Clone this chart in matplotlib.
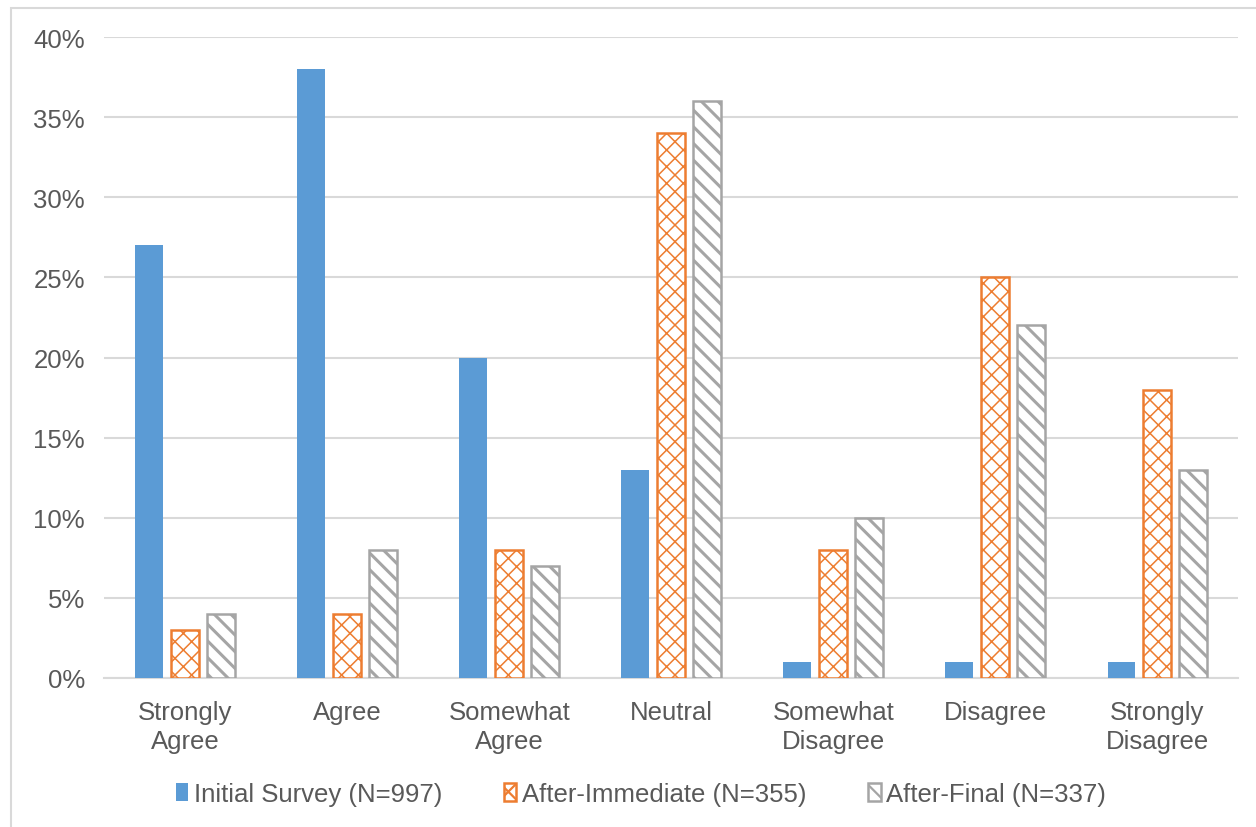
import matplotlib.pyplot as plt
import matplotlib.patches as mpatches
import numpy as np

plt.rcParams['font.family'] = ['Liberation Sans', 'DejaVu Sans']
plt.rcParams['hatch.linewidth'] = 1.6

categories = ['Strongly\nAgree', 'Agree', 'Somewhat\nAgree', 'Neutral',
              'Somewhat\nDisagree', 'Disagree', 'Strongly\nDisagree']
initial = [27, 38, 20, 13, 1, 1, 1]
immediate = [3, 4, 8, 34, 8, 25, 18]
final = [4, 8, 7, 36, 10, 22, 13]
series_names = ['Initial Survey (N=997)', 'After-Immediate (N=355)', 'After-Final (N=337)']

blue = '#5B9BD5'
orange = '#ED7D31'
gray = '#A5A5A5'
text_col = '#595959'

fig = plt.figure(figsize=(12.56, 8.28), dpi=100)
ax = fig.add_axes([0.083, 0.18, 0.903, 0.774])

# light frame around the chart area
fig.patches.append(mpatches.Rectangle((11 / 1256, -0.01), 1.1, 1 - 9 / 828 + 0.01,
                                      transform=fig.transFigure, fill=False,
                                      edgecolor='#D9D9D9', linewidth=1.5))

x = np.arange(len(categories))
w = 0.172
off = 0.222

b1 = ax.bar(x - off, initial, w, color=blue, label=series_names[0], zorder=3)
b2 = ax.bar(x, immediate, w, facecolor='white', edgecolor=orange, hatch='xx',
            linewidth=1.8, label=series_names[1], zorder=3)
b3 = ax.bar(x + off, final, w, facecolor='white', edgecolor=gray, hatch='\\\\',
            linewidth=1.8, label=series_names[2], zorder=3)
for p in b2:
    p.set_hatch_linewidth(1.1)
for p in b3:
    p.set_hatch_linewidth(2.2)

ax.set_ylim(0, 40)
ax.set_xlim(-0.5, len(categories) - 0.5)
ax.set_yticks(range(0, 41, 5))
ax.set_yticklabels([f'{v}%' for v in range(0, 41, 5)])
ax.set_xticks(x)
ax.set_xticklabels(categories, linespacing=1.25)

ax.grid(axis='y', color='#D9D9D9', linewidth=1.5, zorder=0)
for s in ['top', 'right', 'left']:
    ax.spines[s].set_visible(False)
ax.spines['bottom'].set_color('#D9D9D9')
ax.spines['bottom'].set_linewidth(1.5)
ax.tick_params(axis='both', length=0, labelsize=18.5, colors=text_col)
ax.tick_params(axis='y', pad=14)
ax.tick_params(axis='x', pad=16)

leg = fig.legend(handles=[b1, b2, b3], loc='center', bbox_to_anchor=(0.51, 0.04),
                 ncol=3, frameon=False, fontsize=18.5, handlelength=0.5,
                 handleheight=0.7, handletextpad=0.2, columnspacing=2.4)
for t in leg.get_texts():
    t.set_color(text_col)

fig.savefig('out.png', dpi=100)
